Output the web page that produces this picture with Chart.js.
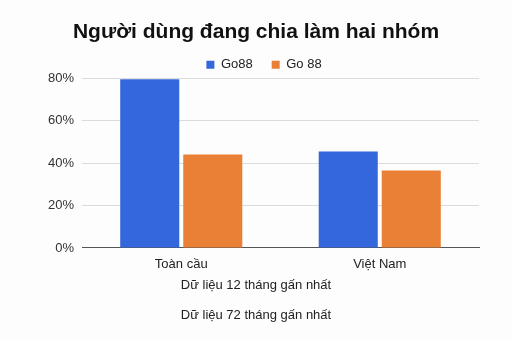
<!DOCTYPE html>
<html>
<head>
<meta charset="utf-8">
<script src="https://cdn.jsdelivr.net/npm/chart.js@4"></script>
<style>
html,body{margin:0;padding:0;background:#fdfdfd;}
#wrap{width:512px;height:341px;}
</style>
</head>
<body>
<div id="wrap"><canvas id="c" width="512" height="341"></canvas></div>
<script>
const categories = ['Toàn cầu', 'Việt Nam'];
const seriesNames = ['Go88', 'Go 88'];
const go88Values = [79.5, 45.5];
const go88bValues = [44, 36.5];
const yTicks = [0, 20, 40, 60, 80];
const chartTitle = 'Người dùng đang chia làm hai nhóm';
const footnotes = ['Dữ liệu 12 tháng gấn nhất', '', 'Dữ liệu 72 tháng gấn nhất'];

const FONT = '"Liberation Sans", Arial, Helvetica, sans-serif';
Chart.defaults.font.family = FONT;
Chart.defaults.color = '#222';

new Chart(document.getElementById('c'), {
  type: 'bar',
  data: {
    labels: categories,
    datasets: [
      { label: seriesNames[0], data: go88Values, backgroundColor: '#3467DB', borderWidth: 0,
        categoryPercentage: 0.635, barPercentage: 0.937 },
      { label: seriesNames[1], data: go88bValues, backgroundColor: '#EA8035', borderWidth: 0,
        categoryPercentage: 0.635, barPercentage: 0.937 }
    ]
  },
  options: {
    responsive: false,
    animation: false,
    devicePixelRatio: 1,
    layout: { padding: 0 },
    plugins: {
      title: {
        display: true, text: chartTitle, color: '#111',
        font: { size: 21, weight: 'bold', family: FONT },
        padding: { top: 20, bottom: -6 }
      },
      subtitle: {
        display: true, position: 'bottom', text: footnotes, color: '#222',
        font: { size: 13, family: FONT, lineHeight: 1.154 },
        padding: { top: 0, bottom: 18 }
      },
      legend: {
        position: 'top',
        maxHeight: 39,
        labels: {
          boxWidth: 8, boxHeight: 8, color: '#222',
          font: { size: 13, family: FONT }, padding: 19
        }
      },
      tooltip: { enabled: false }
    },
    scales: {
      x: {
        afterFit: s => { s.height = 30; },
        grid: { display: false, drawTicks: false },
        border: { display: true, color: '#555', width: 1 },
        ticks: { color: '#222', font: { size: 13, family: FONT }, padding: 9 }
      },
      y: {
        min: 0, max: 80,
        afterFit: s => { s.width = 82; },
        afterBuildTicks: s => { s.ticks = yTicks.map(v => ({ value: v })); },
        grid: {
          color: ctx => ctx.tick && ctx.tick.value === 0 ? 'rgba(0,0,0,0)' : '#dcdcdc',
          drawTicks: false
        },
        border: { display: false },
        ticks: {
          color: '#333', font: { size: 13, family: FONT }, padding: 8,
          callback: v => v + '%'
        }
      },
      y2: {
        position: 'right', display: true, min: 0, max: 80,
        afterFit: s => { s.width = 33; },
        grid: { display: false, drawOnChartArea: false },
        border: { display: false },
        ticks: { display: false }
      }
    }
  },
  plugins: [{
    id: 'legendShift',
    afterLayout(chart) {
      if (chart.legend) { chart.legend.left += 16; }
    }
  }]
});
</script>
</body>
</html>
